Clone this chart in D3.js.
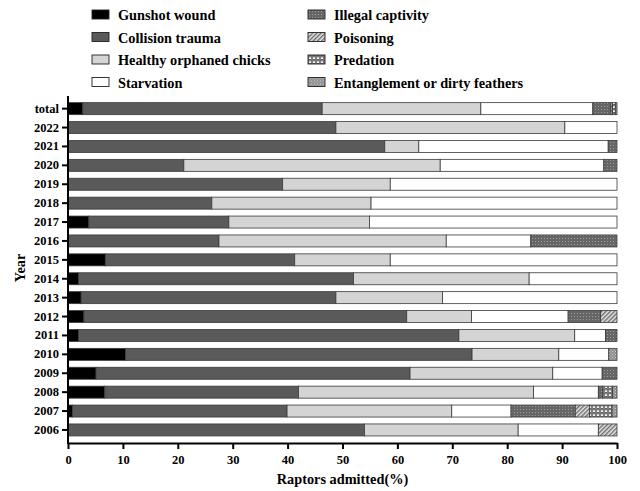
<!DOCTYPE html>
<html>
<head>
<meta charset="utf-8">
<script src="https://cdn.jsdelivr.net/npm/d3@7"></script>
<style>
  body { margin: 0; background: #fff; }
  svg text { font-family: "Liberation Serif", "Times New Roman", serif; font-weight: bold; fill: #000; }
</style>
</head>
<body>
<svg id="chart" width="640" height="491"></svg>
<script>
// rows, top to bottom
const years = ["total", "2022", "2021", "2020", "2019", "2018", "2017", "2016", "2015",
  "2014", "2013", "2012", "2011", "2010", "2009", "2008", "2007", "2006"];

// percent of raptors admitted, per cause
const gunshot      = [2.7, 0, 0, 0, 0, 0, 3.8, 0, 6.8, 1.9, 2.4, 2.9, 1.9, 10.5, 5.1, 6.7, 0.8, 0];
const collision    = [43.6, 48.8, 57.7, 21.1, 39.1, 26.2, 25.5, 27.5, 34.5, 50.1, 46.4, 58.8, 69.3, 63.1, 57.2, 35.3, 39.1, 54.0];
const healthy      = [28.9, 41.7, 6.2, 46.7, 19.6, 29.0, 25.6, 41.4, 17.4, 32.0, 19.4, 11.8, 21.1, 15.8, 26.0, 42.8, 30.0, 28.0];
const starvation   = [20.4, 9.5, 34.5, 29.8, 41.3, 44.8, 45.1, 15.4, 41.3, 16.0, 31.8, 17.6, 5.6, 9.1, 9.0, 11.8, 10.8, 14.6];
const illegal      = [3.3, 0, 1.6, 2.4, 0, 0, 0, 15.7, 0, 0, 0, 5.9, 2.1, 0, 2.7, 0.8, 11.7, 0];
const poisoning    = [0.3, 0, 0, 0, 0, 0, 0, 0, 0, 0, 0, 3.0, 0, 0, 0, 0, 2.6, 3.4];
const predation    = [0.5, 0, 0, 0, 0, 0, 0, 0, 0, 0, 0, 0, 0, 0, 0, 1.8, 4.1, 0];
const entanglement = [0.3, 0, 0, 0, 0, 0, 0, 0, 0, 0, 0, 0, 0, 1.5, 0, 0.8, 0.9, 0];

const causes = ["Gunshot wound", "Collision trauma", "Healthy orphaned chicks", "Starvation",
  "Illegal captivity", "Poisoning", "Predation", "Entanglement or dirty feathers"];
const xTicks = [0, 10, 20, 30, 40, 50, 60, 70, 80, 90, 100];

const series = [gunshot, collision, healthy, starvation, illegal, poisoning, predation, entanglement];
const rows = years.map((y, i) => {
  const r = { year: y };
  causes.forEach((c, k) => { r[c] = series[k][i]; });
  return r;
});

const svg = d3.select("#chart");
const plotL = 68, plotR = 617, plotT = 96, plotB = 443;

// hatch / dot patterns for the minor causes
const defs = svg.append("defs");
let p = defs.append("pattern").attr("id", "pIllegal").attr("patternUnits", "userSpaceOnUse")
  .attr("width", 3).attr("height", 3);
p.append("rect").attr("width", 3).attr("height", 3).attr("fill", "#666");
p.append("rect").attr("x", 1).attr("y", 1).attr("width", 1).attr("height", 1).attr("fill", "#9c9c9c");

p = defs.append("pattern").attr("id", "pPoison").attr("patternUnits", "userSpaceOnUse")
  .attr("width", 3).attr("height", 3).attr("patternTransform", "rotate(45)");
p.append("rect").attr("width", 3).attr("height", 3).attr("fill", "#e6e6e6");
p.append("rect").attr("width", 1.4).attr("height", 3).attr("fill", "#6a6a6a");

p = defs.append("pattern").attr("id", "pPred").attr("patternUnits", "userSpaceOnUse")
  .attr("width", 4).attr("height", 4);
p.append("rect").attr("width", 4).attr("height", 4).attr("fill", "#f2f2f2");
p.append("path").attr("d", "M0,4 L2,0 L4,4 M0,2 L1,0 M3,0 L4,2").attr("stroke", "#444")
  .attr("stroke-width", 0.9).attr("fill", "none");

p = defs.append("pattern").attr("id", "pEntangle").attr("patternUnits", "userSpaceOnUse")
  .attr("width", 3).attr("height", 3);
p.append("rect").attr("width", 3).attr("height", 3).attr("fill", "#8c8c8c");
p.append("rect").attr("width", 1).attr("height", 1).attr("fill", "#d0d0d0");
p.append("rect").attr("x", 1.5).attr("y", 1.5).attr("width", 1).attr("height", 1).attr("fill", "#cfcfcf");

const fills = ["#000000", "#5a5a5a", "#d4d4d4", "#ffffff",
  "url(#pIllegal)", "url(#pPoison)", "url(#pPred)", "url(#pEntangle)"];
const color = d3.scaleOrdinal().domain(causes).range(fills);

const x = d3.scaleLinear().domain([0, 100]).range([plotL, plotR]);
const y = d3.scaleBand().domain(years).range([99.2, 439.4])
  .paddingInner(0.365).paddingOuter(0.1825);

const stacked = d3.stack().keys(causes)(rows);

svg.append("g").selectAll("g").data(stacked).join("g")
  .attr("fill", d => color(d.key))
  .selectAll("rect").data(d => d.filter(s => s[1] - s[0] > 0)).join("rect")
  .attr("x", d => x(d[0]))
  .attr("y", d => y(d.data.year))
  .attr("width", d => x(d[1]) - x(d[0]))
  .attr("height", y.bandwidth())
  .attr("stroke", "#3a3a3a")
  .attr("stroke-width", 0.8);

// x axis
const xAxis = svg.append("g").attr("transform", `translate(0,${plotB})`)
  .call(d3.axisBottom(x).tickValues(xTicks).tickSize(6).tickPadding(6).tickSizeOuter(0));
xAxis.select(".domain").attr("stroke-width", 2);
xAxis.selectAll(".tick line").attr("stroke-width", 2);
xAxis.selectAll("text").attr("font-size", 12.5).style("font-family", "Liberation Serif").style("font-weight", "bold");

// y axis
const yAxis = svg.append("g").attr("transform", `translate(${plotL},0)`)
  .call(d3.axisLeft(y).tickSize(6).tickPadding(3).tickSizeOuter(0));
yAxis.select(".domain").remove();
yAxis.selectAll(".tick line").attr("stroke-width", 2);
yAxis.selectAll("text").attr("font-size", 12.5).style("font-family", "Liberation Serif").style("font-weight", "bold");
svg.append("line").attr("x1", plotL).attr("x2", plotL).attr("y1", plotT).attr("y2", plotB + 1)
  .attr("stroke", "#000").attr("stroke-width", 2);

// axis titles
svg.append("text").attr("x", (plotL + plotR) / 2).attr("y", 484)
  .attr("text-anchor", "middle").attr("font-size", 14.3).text("Raptors admitted(%)");
svg.append("text").attr("transform", "translate(25,268) rotate(-90)")
  .attr("text-anchor", "middle").attr("font-size", 14.3).text("Year");

// legend, two columns of four
const legend = svg.append("g").selectAll("g").data(causes).join("g")
  .attr("transform", (d, i) => `translate(${i < 4 ? 92 : 308},${10 + (i % 4) * 22.5})`);
legend.append("rect").attr("width", 17).attr("height", 9)
  .attr("fill", d => color(d)).attr("stroke", "#222").attr("stroke-width", 0.9);
legend.append("text").attr("x", 26).attr("y", 10).attr("font-size", 14.3).text(d => d);
</script>
</body>
</html>
